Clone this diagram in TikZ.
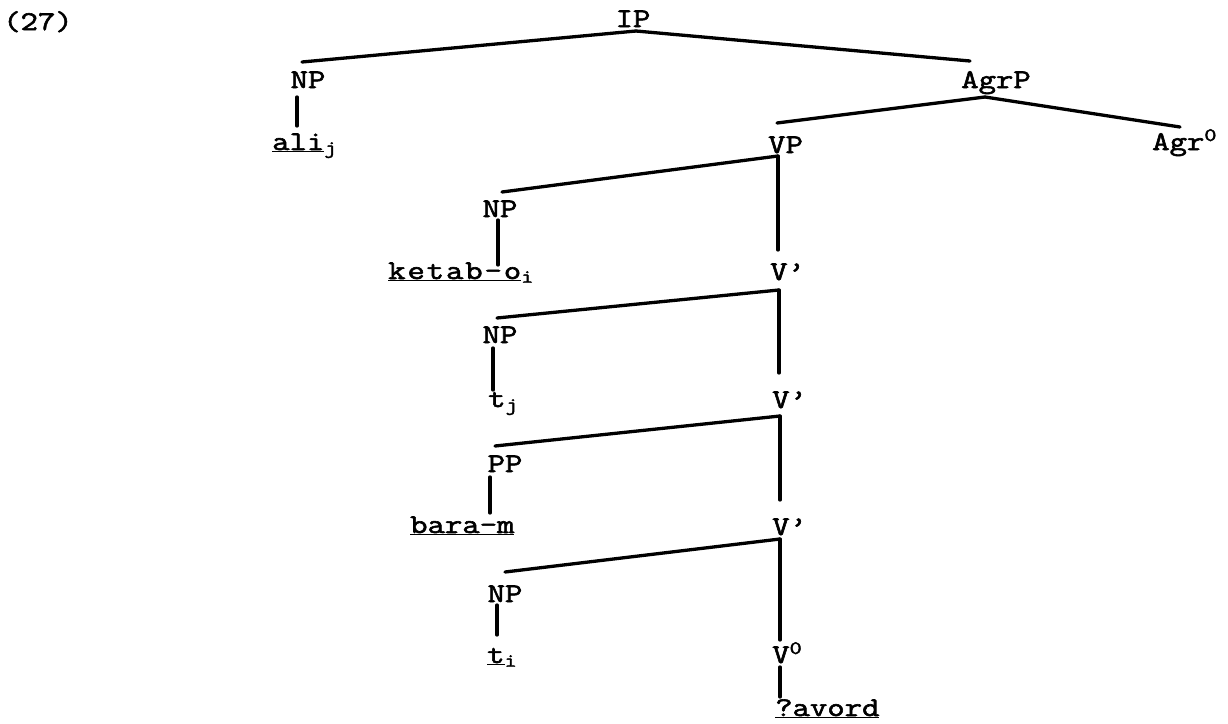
\documentclass[tikz,border=0pt]{standalone}
\usepackage{fontspec}
\setmonofont[FakeBold=2.2,FakeStretch=1.25]{Latin Modern Mono}
\begin{document}
\begin{tikzpicture}[x=1pt,y=-1pt,
  lbl/.style={inner sep=0pt,font=\fontsize{27}{30}\selectfont\ttfamily},
  sp/.style={font=\fontsize{27}{30}\selectfont\ttfamily\addfontfeature{LetterSpace=7}},
  br/.style={line width=3.3pt,line cap=round}]
\useasboundingbox (0,0) rectangle (1228,723);
% labels
\node[lbl,anchor=base west] (ex) at (3,30) {(27)};
\node[lbl,anchor=base] (ip) at (633,27) {IP};
\node[lbl,anchor=base] (np1) at (308,88) {NP};
\node[lbl,anchor=base west] (ali) at (272,150) {\underline{ali}\textsubscript{j}};
\node[lbl,anchor=base] (agrp) at (996,88) {AgrP};
\node[lbl,anchor=base west] (agr) at (1152,150) {Agr\textsuperscript{0}};
\node[lbl,anchor=base west] (vp) at (768,153) {VP};
\node[lbl,anchor=base] (np2) at (500,217) {NP};
\node[lbl,sp,anchor=base west] (ketab) at (388,279) {\underline{ketab-o}\textsubscript{i}};
\node[lbl,anchor=base west] (v1) at (770,280) {V’};
\node[lbl,anchor=base] (np3) at (500,343) {NP};
\node[lbl,anchor=base west] (tj) at (488,407) {t\textsubscript{j}};
\node[lbl,anchor=base west] (v2) at (772,408) {V’};
\node[lbl,anchor=base] (pp) at (505,472) {PP};
\node[lbl,anchor=base west] (bara) at (410,533) {\underline{bara-m}};
\node[lbl,anchor=base west] (v3) at (772,535) {V’};
\node[lbl,anchor=base] (np4) at (505,602) {NP};
\node[lbl,anchor=base west] (ti) at (487,663) {\underline{t}\textsubscript{i}};
\node[lbl,anchor=base west] (v0) at (772,663) {V\textsuperscript{0}};
\node[lbl,anchor=base west] (avord) at (775,716) {\underline{?avord}};
% branches
\draw[br] ([shift={(3,4)}]ip.base) -- ([shift={(-6,-26)}]np1.base);
\draw[br] ([shift={(3,4)}]ip.base) -- ([shift={(-26,-27)}]agrp.base);
\draw[br] ([shift={(-11,9)}]np1.base) -- ([shift={(25,-24)}]ali.base west);
\draw[br] ([shift={(-11,9)}]agrp.base) -- ([shift={(9,-30)}]vp.base west);
\draw[br] ([shift={(-11,9)}]agrp.base) -- ([shift={(28,-23)}]agr.base west);
\draw[br] ([shift={(10,3)}]vp.base west) -- ([shift={(2,-25)}]np2.base);
\draw[br] ([shift={(10,3)}]vp.base west) -- ([shift={(8,-30)}]v1.base west);
\draw[br] ([shift={(-2,3)}]np2.base) -- ([shift={(110,-14)}]ketab.base west);
\draw[br] ([shift={(9,10)}]v1.base west) -- ([shift={(-3,-25)}]np3.base);
\draw[br] ([shift={(9,10)}]v1.base west) -- ([shift={(7,-35)}]v2.base west);
\draw[br] ([shift={(-7,5)}]np3.base) -- ([shift={(5,-17)}]tj.base west);
\draw[br] ([shift={(8,8)}]v2.base west) -- ([shift={(-10,-26)}]pp.base);
\draw[br] ([shift={(8,8)}]v2.base west) -- ([shift={(8,-35)}]v3.base west);
\draw[br] ([shift={(-15,5)}]pp.base) -- ([shift={(80,-20)}]bara.base west);
\draw[br] ([shift={(8,4)}]v3.base west) -- ([shift={(0,-30)}]np4.base);
\draw[br] ([shift={(8,4)}]v3.base west) -- ([shift={(8,-23)}]v0.base west);
\draw[br] ([shift={(-8,3)}]np4.base) -- ([shift={(10,-28)}]ti.base west);
\draw[br] ([shift={(8,4)}]v0.base west) -- ([shift={(5,-19)}]avord.base west);
\end{tikzpicture}
\end{document}
